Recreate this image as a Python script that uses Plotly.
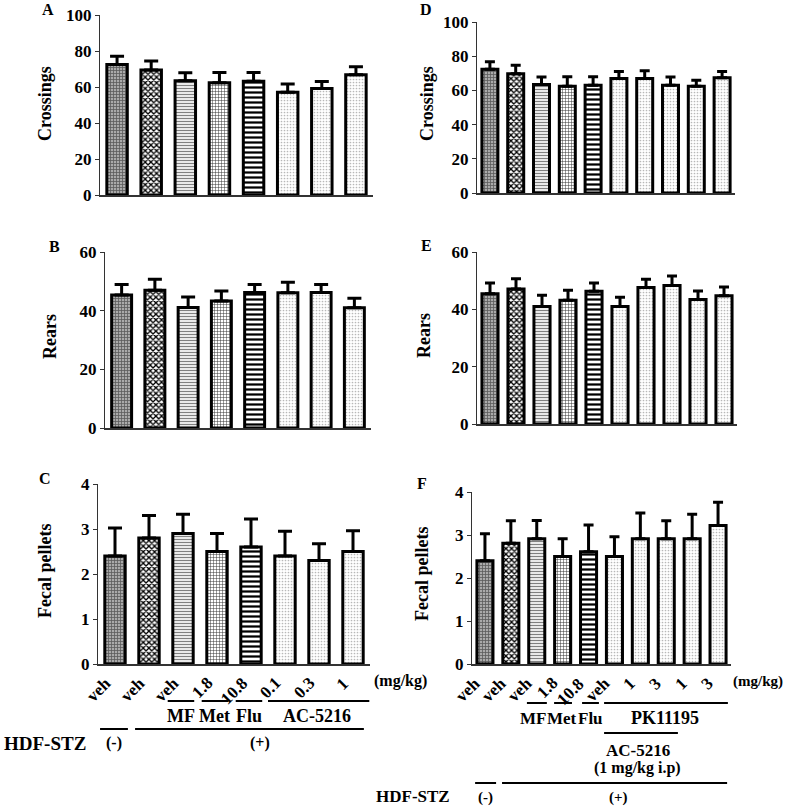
import plotly.graph_objects as go

# ---------------- data ----------------
ticks_left = ["veh", "veh", "veh", "1.8", "10.8", "0.1", "0.3", "1"]
ticks_right = ["veh", "veh", "veh", "1.8", "10.8", "veh", "1", "3", "1", "3"]

crossings_left = [72.5, 69.5, 63.5, 62.3, 63.2, 57.1, 59.2, 66.8]
crossings_left_sem = [4.6, 5.0, 4.4, 5.8, 4.9, 4.5, 3.8, 4.4]
crossings_right = [72.3, 69.8, 63.4, 62.4, 63.0, 66.9, 66.9, 63.0, 62.4, 67.4]
crossings_right_sem = [4.5, 4.9, 4.4, 5.6, 5.0, 4.1, 4.6, 4.8, 3.5, 3.6]

rears_left = [45.3, 47.0, 41.1, 43.3, 46.2, 46.1, 46.2, 41.0]
rears_left_sem = [3.6, 3.7, 3.6, 3.4, 2.7, 3.6, 2.7, 3.2]
rears_right = [45.4, 47.1, 41.0, 43.2, 46.3, 41.0, 47.6, 48.3, 43.4, 44.7]
rears_right_sem = [3.8, 3.6, 3.9, 3.5, 2.9, 3.2, 2.9, 3.3, 3.0, 3.1]

fecal_left = [2.4, 2.8, 2.9, 2.5, 2.6, 2.4, 2.3, 2.5]
fecal_left_sem = [0.62, 0.5, 0.43, 0.4, 0.62, 0.55, 0.37, 0.46]
fecal_right = [2.4, 2.81, 2.91, 2.5, 2.61, 2.5, 2.91, 2.91, 2.91, 3.22]
fecal_right_sem = [0.63, 0.52, 0.43, 0.41, 0.62, 0.46, 0.6, 0.42, 0.57, 0.54]

# ---------------- layout helpers ----------------
W, H = 787, 806
FONT = "Liberation Serif"

def fx(px):
    return px / W

def fy(py):
    return 1 - py / H

base_styles = [
    dict(shape="+", fg="#5a5a5a", bg="#aaaaaa", size=3, sol=0.45),
    dict(shape="x", fg="#000000", bg="#ffffff", size=4, sol=0.55),
    dict(shape="-", fg="#808080", bg="#ffffff", size=3, sol=0.45),
    dict(shape="+", fg="#333333", bg="#ffffff", size=3, sol=0.3),
    dict(shape="-", fg="#000000", bg="#ffffff", size=5, sol=0.45),
]
dot_style = dict(shape=".", fg="#b8b8b8", bg="#ffffff", size=3, sol=0.25)

def styles_for(n):
    return base_styles + [dot_style] * (n - len(base_styles))

panels = [
    dict(ax="", vals=crossings_left, sem=crossings_left_sem, ticks=ticks_left,
         xd=(100, 373), yd=(15, 195), ymax=100, dt=20, title="Crossings",
         letter="A", lp=(48, 9), tp=(45, 104), showt=False, cap=7, bw=0.6),
    dict(ax="2", vals=rears_left, sem=rears_left_sem, ticks=ticks_left,
         xd=(105, 371), yd=(252, 428), ymax=60, dt=20, title="Rears",
         letter="B", lp=(54, 247), tp=(50, 337), showt=False, cap=7, bw=0.6),
    dict(ax="3", vals=fecal_left, sem=fecal_left_sem, ticks=ticks_left,
         xd=(98, 370), yd=(484, 664), ymax=4, dt=1, title="Fecal pellets",
         letter="C", lp=(45, 478), tp=(45, 571), showt=True, cap=7, bw=0.6),
    dict(ax="4", vals=crossings_right, sem=crossings_right_sem, ticks=ticks_right,
         xd=(477, 735), yd=(22, 193), ymax=100, dt=20, title="Crossings",
         letter="D", lp=(426, 9), tp=(427, 103), showt=False, cap=5, bw=0.62),
    dict(ax="5", vals=rears_right, sem=rears_right_sem, ticks=ticks_right,
         xd=(477, 737), yd=(252, 424), ymax=60, dt=20, title="Rears",
         letter="E", lp=(427, 245), tp=(424, 335), showt=False, cap=5, bw=0.62),
    dict(ax="6", vals=fecal_right, sem=fecal_right_sem, ticks=ticks_right,
         xd=(472, 731), yd=(492, 664), ymax=4, dt=1, title="Fecal pellets",
         letter="F", lp=(422, 483), tp=(422, 574), showt=True, cap=5, bw=0.62),
]

fig = go.Figure()
layout = dict(
    template="none",
    width=W, height=H, margin=dict(l=0, r=0, t=0, b=0, autoexpand=False),
    paper_bgcolor="white", plot_bgcolor="white", showlegend=False,
    barmode="overlay",
)
annotations = []
shapes = []

for p in panels:
    n = len(p["vals"])
    st = styles_for(n)
    xname = "x" + p["ax"]
    yname = "y" + p["ax"]
    for i in range(n):
        s = st[i]
        fig.add_trace(go.Bar(
            x=[i], y=[p["vals"][i]], width=p["bw"],
            xaxis=xname, yaxis=yname,
            marker=dict(
                color=s["bg"],
                line=dict(color="black", width=3),
                pattern=dict(shape=s["shape"], fgcolor=s["fg"], bgcolor=s["bg"],
                             size=s["size"], solidity=s["sol"], fillmode="replace"),
            ),
            error_y=dict(type="data", array=[p["sem"][i]], arrayminus=[0],
                         symmetric=False, color="black", thickness=3, width=p["cap"]),
            hoverinfo="skip",
        ))
    xkey = "xaxis" + p["ax"]
    ykey = "yaxis" + p["ax"]
    layout[xkey] = dict(
        domain=[fx(p["xd"][0]), fx(p["xd"][1])], anchor=yname,
        range=[-0.5, n - 0.5], showgrid=False, zeroline=False,
        showline=True, linecolor="#333333", linewidth=1.5,
        ticks="", showticklabels=False, automargin=False,
        fixedrange=True,
    )
    layout[ykey] = dict(
        domain=[fy(p["yd"][1]), fy(p["yd"][0])], anchor=xname,
        range=[0, p["ymax"]], showgrid=False, zeroline=False,
        showline=True, linecolor="#333333", linewidth=1,
        ticks="outside", ticklen=4, tickcolor="#333333", tickwidth=1,
        tickvals=list(range(0, p["ymax"] + 1, p["dt"])), automargin=False,
        ticklabeloverflow="allow",
        tickfont=dict(family=FONT, size=17, color="black", weight="bold"),
        fixedrange=True,
    )
    annotations.append(dict(
        x=fx(p["lp"][0]), y=fy(p["lp"][1]), xref="paper", yref="paper",
        text=p["letter"], showarrow=False, xanchor="center", yanchor="middle",
        font=dict(family=FONT, size=16, color="black", weight="bold"),
    ))
    annotations.append(dict(
        x=fx(p["tp"][0]), y=fy(p["tp"][1]), xref="paper", yref="paper",
        text=p["title"], showarrow=False, textangle=-90,
        xanchor="center", yanchor="middle",
        font=dict(family=FONT, size=18, color="black", weight="bold"),
    ))
    if p["showt"]:
        # rotated category labels placed on the category axis
        for i, t in enumerate(p["ticks"]):
            annotations.append(dict(
                x=i + 0.08, y=fy(671), xref=xname, yref="paper", text=t,
                showarrow=False, textangle=-45, xanchor="right", yanchor="top",
                font=dict(family=FONT, size=17, color="black", weight="bold"),
            ))

def hline(xref, x0, x1, py):
    shapes.append(dict(type="line", xref=xref, yref="paper",
                       x0=x0, x1=x1, y0=fy(py), y1=fy(py),
                       line=dict(color="black", width=2)))

def label(xref, x, py, text, size=18, xanchor="center"):
    annotations.append(dict(
        x=x, y=fy(py), xref=xref, yref="paper", text=text, showarrow=False,
        xanchor=xanchor, yanchor="middle",
        font=dict(family=FONT, size=size, color="black", weight="bold"),
    ))

# ---- left bottom group annotations (panel C) ----
hline("x3", 1.55, 2.33, 701)
hline("x3", 2.55, 3.33, 701)
hline("x3", 3.55, 4.33, 701)
hline("x3", 4.5, 7.48, 701)
label("x3", 1.94, 716, "MF")
label("x3", 2.94, 716, "Met")
label("x3", 3.94, 716, "Flu")
label("x3", 5.94, 716, "AC-5216")
hline("x3", -0.44, 0.38, 729)
hline("x3", 0.59, 7.32, 729)
label("x3", -0.03, 743, "(-)", size=16)
label("x3", 4.26, 743, "(+)", size=16)
label("paper", fx(2), 743, "HDF-STZ", size=19, xanchor="left")
label("paper", fx(372), 681, "(mg/kg)", size=16, xanchor="left")

# ---- right bottom group annotations (panel F) ----
hline("x6", 1.62, 2.39, 703)
hline("x6", 2.67, 3.36, 703)
hline("x6", 3.75, 4.4, 703)
hline("x6", 4.6, 9.38, 703)
label("x6", 1.84, 718, "MF", size=17)
label("x6", 2.97, 718, "Met", size=17)
label("x6", 4.08, 718, "Flu", size=17)
label("x6", 6.95, 718, "PK11195")
hline("x6", 4.6, 7.45, 733)
label("x6", 5.9, 750, "AC-5216", size=17)
label("x6", 5.9, 768, "(1 mg/kg i.p)", size=16)
hline("x6", -0.38, 0.43, 783)
hline("x6", 0.66, 9.35, 783)
label("x6", 0.04, 797, "(-)", size=15)
label("x6", 5.14, 797, "(+)", size=15)
label("paper", fx(452), 796, "HDF-STZ", size=17, xanchor="right")
label("paper", fx(731), 681, "(mg/kg)", size=15, xanchor="left")

layout["annotations"] = annotations
layout["shapes"] = shapes
fig.update_layout(**layout)
fig.write_html(
    "out.html",
    config={"displayModeBar": False},
    post_script="document.body.style.margin='0';document.body.style.overflow='hidden';",
)
